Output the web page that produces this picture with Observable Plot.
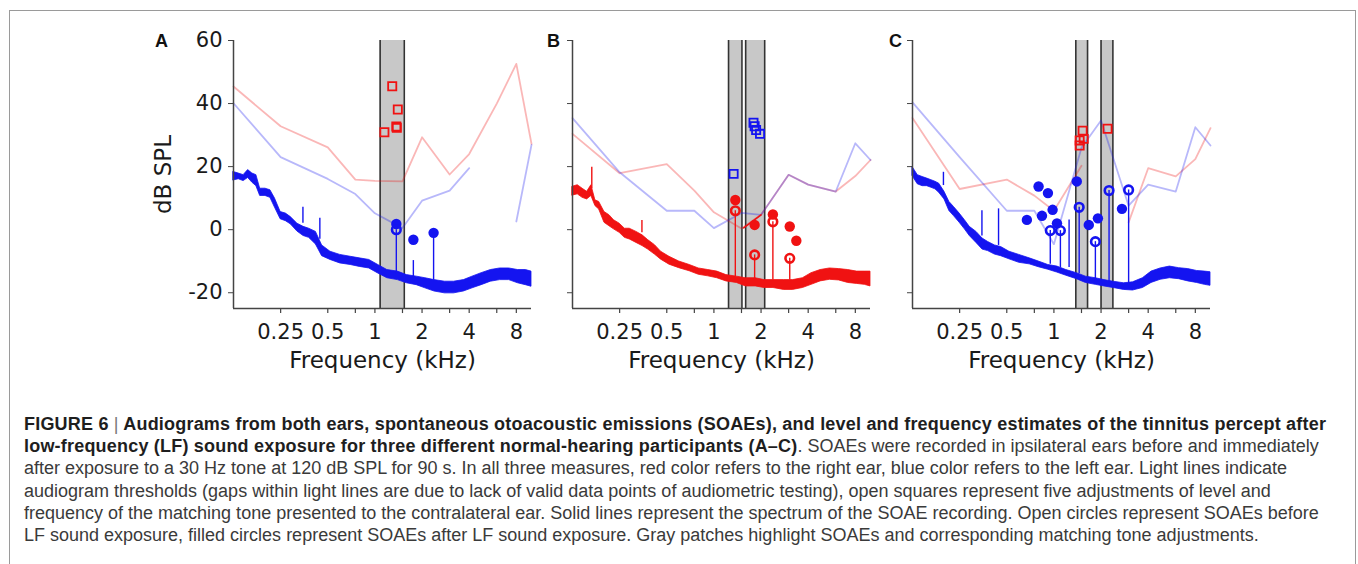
<!DOCTYPE html>
<html>
<head>
<meta charset="utf-8">
<script src="https://cdn.jsdelivr.net/npm/d3@7"></script>
<script src="https://cdn.jsdelivr.net/npm/@observablehq/plot@0.6"></script>
<style>
  html, body { margin: 0; padding: 0; background: #fff; }
  #page { position: relative; width: 1358px; height: 564px; overflow: hidden; background: #fff; }
  #frame { position: absolute; left: 9px; top: 10px; width: 1347px; height: 600px; border: 1px solid #9a9a9a; box-sizing: border-box; }
  .panel { position: absolute; top: 30px; }
  #caption { position: absolute; left: 24px; top: 413px; font-family: "Liberation Sans", Arial, Helvetica, sans-serif;
             font-size: 18px; line-height: 22.2px; color: #3a3a3a; white-space: nowrap; }
  #caption b { color: #1e1e1e; letter-spacing: 0.2px; }
  #caption .sep { font-weight: normal; color: #777; }
</style>
</head>
<body>
<div id="page">
  <div id="frame"></div>
  <div class="panel" id="pA" style="left:130px"></div>
  <div class="panel" id="pB" style="left:545px"></div>
  <div class="panel" id="pC" style="left:885px"></div>
  <div id="caption">
    <b>FIGURE 6 <span class="sep">|</span> Audiograms from both ears, spontaneous otoacoustic emissions (SOAEs), and level and frequency estimates of the tinnitus percept after</b><br>
    <b>low-frequency (LF) sound exposure for three different normal-hearing participants (A–C)</b>. SOAEs were recorded in ipsilateral ears before and immediately<br>
    after exposure to a 30 Hz tone at 120 dB SPL for 90 s. In all three measures, red color refers to the right ear, blue color refers to the left ear. Light lines indicate<br>
    audiogram thresholds (gaps within light lines are due to lack of valid data points of audiometric testing), open squares represent five adjustments of level and<br>
    frequency of the matching tone presented to the contralateral ear. Solid lines represent the spectrum of the SOAE recording. Open circles represent SOAEs before<br>
    LF sound exposure, filled circles represent SOAEs after LF sound exposure. Gray patches highlight SOAEs and corresponding matching tone adjustments.
  </div>
</div>
<script>
// ---------- axis settings ----------
const yTicks = [-20, 0, 20, 40, 60];
const xTicks = [0.25, 0.5, 0.75, 1, 1.5, 2, 3, 4, 6, 8];
const xTickLabels = [0.25, 0.5, 1, 2, 4, 8];
const xLabel = "Frequency (kHz)";
const yLabel = "dB SPL";

// ---------- audiogram thresholds (kHz, dB SPL); null = no valid data ----------
const audFreq = [0.125, 0.25, 0.5, 0.75, 1, 1.5, 2, 3, 4, 6, 8, 10];
const audA_right = [45.4, 32.8, 26.1, 15.9, 15.5, 15.3, 29.3, 17.5, 24.0, 40.0, 52.6, 27.2];
const audA_left  = [40.1, 23.0, 16.1, 11.3, 5.2, 0.5, 9.2, 12.4, 19.5, null, 2.6, 26.9];
const audB_right = [30.4, 17.9, 20.8, 12.4, 5.5, 0.4, 4.7, 17.4, 14.3, 12.1, 17.0, 22.1];
const audB_left  = [35.4, 18.2, 6.0, 6.0, 0.5, 5.3, 4.7, 17.4, 14.3, 12.1, 27.4, 22.1];
const audC_right = [35.4, 12.9, 15.9, 10.8, 6.0, 20.3, null, 2.3, 19.5, 16.9, 22.4, 32.2];
const audC_left  = [40.4, 23.0, 6.0, 6.0, -4.6, 26.0, 34.6, 7.6, 14.3, 12.1, 32.5, 26.7];
// darker right-ear segment in panel B
const segB_f = [1.55, 2.0];
const segB_db = [0.6, 4.7];

// ---------- SOAE spectrum envelopes (lower / upper edge of the noisy trace) ----------
const specFreq = [0.125,0.135,0.145,0.155,0.165,0.175,0.185,0.2,0.215,0.23,0.25,0.27,0.29,0.32,0.35,0.38,0.42,0.46,0.52,0.6,0.7,0.8,0.92,1.05,1.2,1.4,1.6,1.85,2.1,2.4,2.8,3.2,3.7,4.2,4.8,5.5,6.3,7.2,8.2,9.2,10];
const specA_lo = [15.6,16.0,15.4,16.4,14.9,13.8,10.7,10.7,10.1,7.0,3.3,2.7,1.7,-0.6,-2.0,-2.6,-4.7,-8.4,-9.6,-10.7,-11.2,-11.8,-12.3,-13.9,-15.4,-16.0,-17.0,-17.6,-18.6,-19.6,-20.2,-20.2,-19.6,-18.6,-17.6,-16.5,-16.0,-16.0,-17.0,-17.6,-18.1];
const specA_hi = [18.3,17.8,17.3,18.9,17.8,17.3,13.0,13.0,12.5,9.9,5.6,5.1,4.0,1.9,0.9,0.3,-0.7,-5.0,-7.0,-8.0,-8.6,-9.1,-9.6,-11.2,-12.8,-13.3,-14.4,-14.9,-15.4,-16.0,-16.5,-16.5,-16.0,-14.9,-13.8,-12.8,-12.3,-12.3,-12.8,-12.8,-13.3];
const specB_lo = [10.8,11.2,10.1,9.6,10.7,7.5,6.4,2.2,1.1,0.1,-1.0,-2.6,-3.1,-4.2,-5.2,-6.3,-7.9,-9.5,-11.1,-12.2,-13.2,-14.3,-14.8,-15.4,-16.4,-16.9,-18.0,-18.0,-18.5,-18.5,-19.1,-19.1,-18.5,-17.5,-16.4,-15.9,-16.1,-16.9,-17.2,-17.5,-18.0];
const specB_hi = [13.6,14.1,13.0,12.0,14.1,9.3,8.8,5.6,4.6,3.0,1.9,0.3,0.3,-0.7,-1.8,-3.3,-4.9,-7.0,-8.6,-10.1,-11.2,-12.3,-12.8,-13.3,-14.4,-14.9,-15.4,-15.4,-16.0,-16.0,-16.0,-16.0,-15.4,-13.8,-12.8,-12.3,-12.5,-12.8,-13.3,-13.3,-13.3];
const specC_lo = [17.0,14.4,13.8,13.8,13.3,12.8,11.7,9.6,5.9,4.3,2.2,0.1,-2.0,-4.2,-6.3,-6.8,-7.9,-8.4,-9.4,-10.5,-11.0,-11.9,-12.7,-13.6,-14.6,-15.7,-16.9,-17.5,-18.0,-18.5,-19.1,-19.3,-18.5,-16.9,-15.9,-15.4,-15.7,-16.4,-16.9,-17.5,-17.8];
const specC_hi = [19.9,17.3,16.7,16.2,15.7,15.2,14.6,12.0,8.8,7.2,5.1,3.0,0.9,-0.7,-2.8,-3.9,-5.0,-5.5,-7.0,-8.0,-9.1,-10.1,-11.2,-11.7,-12.8,-13.8,-14.9,-15.4,-16.0,-16.5,-17.0,-16.7,-15.4,-13.3,-12.3,-11.7,-12.2,-12.5,-13.1,-13.3,-13.5];

// ---------- narrow spectral peaks (kHz, from, to dB) ----------
const peakA_f = [0.347, 0.445, 1.37, 1.76, 2.37];
const peakA_lo = [2, -3, -14, -15, -16];
const peakA_hi = [7.1, 3.6, 0, -9.8, -1.0];
const peakB_f = [0.166, 0.347, 1.37, 1.82, 2.38, 3.05];
const peakB_lo = [13, -1, -15, -16, -16, -16];
const peakB_hi = [19.8, 2.9, 6.0, -8.0, 2.5, -9.1];
const peakC_f = [0.197, 0.347, 0.443, 1.25, 0.948, 1.10, 1.45, 1.84, 2.25, 3.0];
const peakC_lo = [14, -2, -5, -12, -11, -12, -14, -16, -17, -18];
const peakC_hi = [18.2, 6.0, 6.6, 3.1, -0.3, -0.3, 7.1, -3.8, 12.4, 12.6];

// ---------- SOAEs before (open) and after (filled) LF exposure ----------
const openA_f = [1.37];                 const openA_db = [0.0];
const fillA_f = [1.37, 1.76, 2.37];     const fillA_db = [1.8, -3.2, -1.0];
const openB_f = [1.37, 1.82, 2.38, 3.05];        const openB_db = [6.0, -8.0, 2.5, -9.1];
const fillB_f = [1.37, 1.82, 2.38, 3.05, 3.36];  const fillB_db = [9.4, 1.5, 4.8, 1.0, -3.5];
const openC_f = [0.948, 1.10, 1.45, 1.84, 2.25, 3.0];  const openC_db = [-0.3, -0.3, 7.1, -3.8, 12.4, 12.6];
const fillC_f = [0.672, 0.798, 0.916, 0.839, 0.981, 1.046, 1.40, 1.67, 1.91, 2.72];
const fillC_db = [3.1, 13.7, 11.6, 4.4, 6.3, 2.0, 15.3, 1.5, 3.6, 6.6];

// ---------- tinnitus matching tone adjustments (open squares) ----------
const sqA_f = [1.29, 1.40, 1.37, 1.38, 1.15];   const sqA_db = [45.5, 38.1, 32.7, 32.3, 30.9];
const sqB_f = [1.336, 1.79, 1.82, 1.86, 1.97];  const sqB_db = [17.7, 33.9, 32.8, 31.6, 30.4];
const sqC_f = [1.525, 1.55, 1.46, 1.46, 2.2];   const sqC_db = [31.4, 28.8, 28.3, 26.7, 32.0];

// ---------- gray patches (kHz ranges) ----------
const patchA = [[1.08, 1.54]];
const patchB = [[1.24, 1.51], [1.595, 2.11]];
const patchC = [[1.38, 1.64], [2.0, 2.38]];

// ---------- colours ----------
const RED = "#f01212", BLUE = "#1414f0";

const zip2 = (xs, ys) => xs.map((x, i) => ({f: x, db: ys[i]}));
const audRows = vals => audFreq.map((f, i) => ({f, db: vals[i]}));

function panel(o) {
  const spec = specFreq.map((f, i) => ({f, lo: o.specLo[i], hi: o.specHi[i]}));
  const peaks = o.peakF.map((f, i) => ({f, lo: o.peakLo[i], hi: o.peakHi[i]}));
  const edges = o.patches.flat();
  const txt = "#1a1a1a";
  return Plot.plot({
    width: o.width, height: 348,
    marginLeft: o.marginLeft, marginRight: 10, marginTop: 10, marginBottom: 70,
    x: {type: "log", domain: [0.125, 10], axis: null},
    y: {domain: [-25, 60]},
    style: {fontFamily: "'DejaVu Sans', sans-serif", background: "transparent", overflow: "visible", color: txt},
    marks: [
      Plot.rect(o.patches, {x1: d => d[0], x2: d => d[1], y1: () => -25, y2: () => 60, fill: "#c8c8c8"}),
      Plot.ruleX(edges, {x: d => d, stroke: "#333", strokeWidth: 1.6}),
      Plot.line(audRows(o.audRight), {x: "f", y: "db", stroke: RED, strokeOpacity: 0.3, strokeWidth: 1.8}),
      Plot.line(audRows(o.audLeft), {x: "f", y: "db", stroke: BLUE, strokeOpacity: 0.3, strokeWidth: 1.8}),
      ...(o.seg ? [Plot.line(o.seg, {x: "f", y: "db", stroke: RED, strokeWidth: 1.6})] : []),
      Plot.areaY(spec, {x: "f", y1: "lo", y2: "hi", fill: o.color, stroke: o.color, strokeWidth: 0.8}),
      Plot.ruleX(peaks, {x: "f", y1: "lo", y2: "hi", stroke: o.color, strokeWidth: 1.4}),
      Plot.dot(zip2(o.sqF, o.sqDb), {x: "f", y: "db", symbol: "square", r: 4.6, stroke: o.sqColor, strokeWidth: 1.8, fill: "none"}),
      Plot.dot(zip2(o.fillF, o.fillDb), {x: "f", y: "db", r: 5.2, fill: o.color, stroke: "none"}),
      Plot.dot(zip2(o.openF, o.openDb), {x: "f", y: "db", r: 4.3, fill: "none", stroke: o.color, strokeWidth: 2.6}),
      Plot.ruleX([0.125], {stroke: "#444", strokeWidth: 1.5}),
      Plot.ruleY([-25], {stroke: "#444", strokeWidth: 1.5}),
      Plot.axisY({ticks: yTicks, tickSize: 5, tickPadding: 6, fontSize: 21, stroke: "#444",
                  tickFormat: o.yLabels ? d => String(d) : () => "", label: null}),
      // short outward tick marks below the frequency axis (about 5 px)
      Plot.ruleX(xTicks, {x: d => d, y1: () => -25, y2: () => -26.6, stroke: "#444", strokeWidth: 1.2}),
      // tick labels
      Plot.text(xTickLabels, {x: d => d, frameAnchor: "bottom", dy: 24, lineAnchor: "middle", textAnchor: "middle",
                              fontSize: 21, text: d => String(d), fill: txt}),
      Plot.text([xLabel], {frameAnchor: "bottom", dy: 52, lineAnchor: "middle", textAnchor: "middle",
                           fontSize: 23, text: d => d, fill: txt}),
      ...(o.yLabels ? [Plot.text([yLabel], {frameAnchor: "left", dx: -70, rotate: -90, textAnchor: "middle",
                                            lineAnchor: "middle", fontSize: 23, text: d => d, fill: txt})] : []),
      Plot.text([o.letter], {frameAnchor: "top-left", dx: o.letterDx, dy: 1, textAnchor: "middle", lineAnchor: "middle",
                             fontSize: 18, fontWeight: "bold",
                             fontFamily: "'Liberation Sans', Arial, sans-serif", text: d => d, fill: "#111"})
    ]
  });
}

document.getElementById("pA").append(panel({
  width: 411, marginLeft: 103, color: BLUE, sqColor: RED, letter: "A", letterDx: -72, yLabels: true,
  audRight: audA_right, audLeft: audA_left, specLo: specA_lo, specHi: specA_hi,
  peakF: peakA_f, peakLo: peakA_lo, peakHi: peakA_hi,
  openF: openA_f, openDb: openA_db, fillF: fillA_f, fillDb: fillA_db,
  sqF: sqA_f, sqDb: sqA_db, patches: patchA
}));
document.getElementById("pB").append(panel({
  width: 335, marginLeft: 27, color: RED, sqColor: BLUE, letter: "B", letterDx: -19, yLabels: false,
  audRight: audB_right, audLeft: audB_left, specLo: specB_lo, specHi: specB_hi,
  peakF: peakB_f, peakLo: peakB_lo, peakHi: peakB_hi,
  openF: openB_f, openDb: openB_db, fillF: fillB_f, fillDb: fillB_db,
  sqF: sqB_f, sqDb: sqB_db, patches: patchB, seg: zip2(segB_f, segB_db)
}));
document.getElementById("pC").append(panel({
  width: 335, marginLeft: 27, color: BLUE, sqColor: RED, letter: "C", letterDx: -17, yLabels: false,
  audRight: audC_right, audLeft: audC_left, specLo: specC_lo, specHi: specC_hi,
  peakF: peakC_f, peakLo: peakC_lo, peakHi: peakC_hi,
  openF: openC_f, openDb: openC_db, fillF: fillC_f, fillDb: fillC_db,
  sqF: sqC_f, sqDb: sqC_db, patches: patchC
}));
</script>
</body>
</html>
